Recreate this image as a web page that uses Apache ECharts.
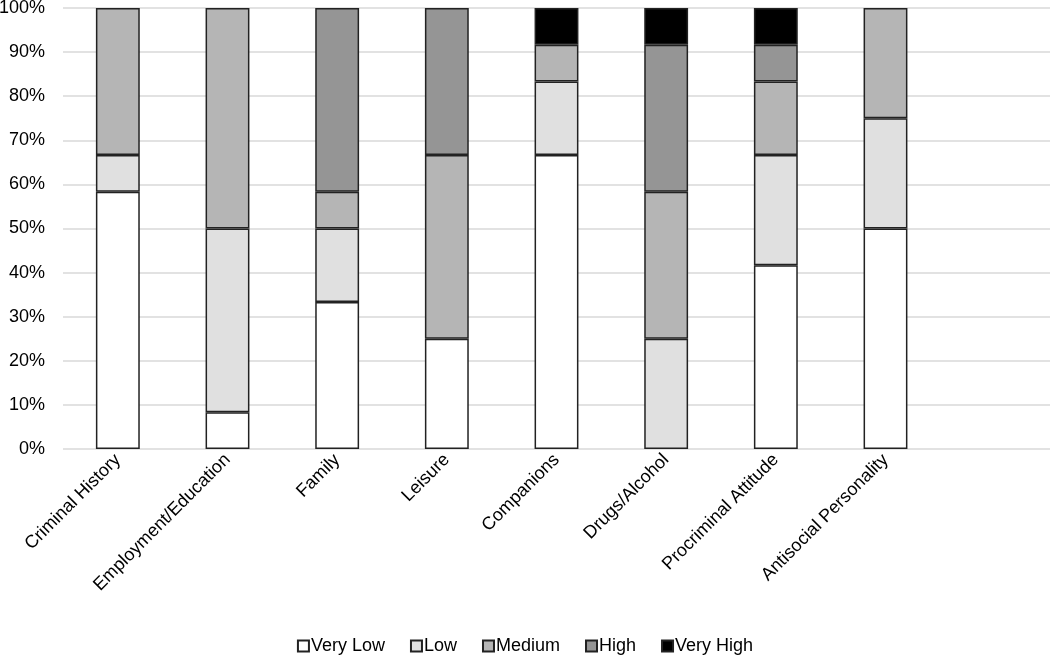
<!DOCTYPE html>
<html><head><meta charset="utf-8">
<script src="https://cdn.jsdelivr.net/npm/echarts@6/dist/echarts.min.js"></script>
<style>html,body{margin:0;padding:0;background:#fff}#c{width:1050px;height:659px}</style>
</head><body><div id="c"></div>
<script>
var categories = ['Criminal History','Employment/Education','Family','Leisure','Companions','Drugs/Alcohol','Procriminal Attitude','Antisocial Personality',''];
var seriesNames = ['Very Low','Low','Medium','High','Very High'];
var veryLow  = [58.33, 8.33, 33.33, 25, 66.67, 0, 41.67, 50];
var low      = [8.33, 41.67, 16.67, 0, 16.67, 25, 25, 25];
var medium   = [33.33, 50, 8.33, 41.67, 8.33, 33.33, 16.67, 25];
var high     = [0, 0, 41.67, 33.33, 0, 33.33, 8.33, 0];
var veryHigh = [0, 0, 0, 0, 8.33, 8.33, 8.33, 0];
var yTicks = [0,10,20,30,40,50,60,70,80,90,100];
var colors = ['#ffffff','#e0e0e0','#b5b5b5','#959595','#000000'];
var allData = [veryLow, low, medium, high, veryHigh];
var font = 'Liberation Sans, Arial, sans-serif';
var chart = echarts.init(document.getElementById('c'));
chart.setOption({
  animation:false,
  grid:{left:63,right:0,top:8,bottom:210,containLabel:false,outerBoundsMode:'none'},
  legend:{bottom:-1,left:'center',itemWidth:11,itemHeight:11,itemGap:25,icon:'rect',
    textStyle:{fontFamily:font,fontSize:18,color:'#000',padding:[0,0,0,-3]},
    data:seriesNames},
  xAxis:{type:'category',data:categories,
    axisLine:{show:false},axisTick:{show:false},
    axisLabel:{rotate:45,interval:0,fontFamily:font,fontSize:18,color:'#000',margin:8}},
  yAxis:{type:'value',min:0,max:100,interval:10,
    axisLabel:{formatter:'{value}%',fontFamily:font,fontSize:18,color:'#000',margin:18},
    axisLine:{show:false},axisTick:{show:false},
    splitLine:{lineStyle:{color:'#d9d9d9',width:1.5}}},
  series: allData.map(function(d,i){
    return {name:seriesNames[i],type:'bar',stack:'a',barWidth:'40%',
      data:d.map(function(v){return v===0?'-':v;}),
      itemStyle:{color:colors[i],borderColor:'#222',borderWidth:1.5}};
  })
});
</script></body></html>
